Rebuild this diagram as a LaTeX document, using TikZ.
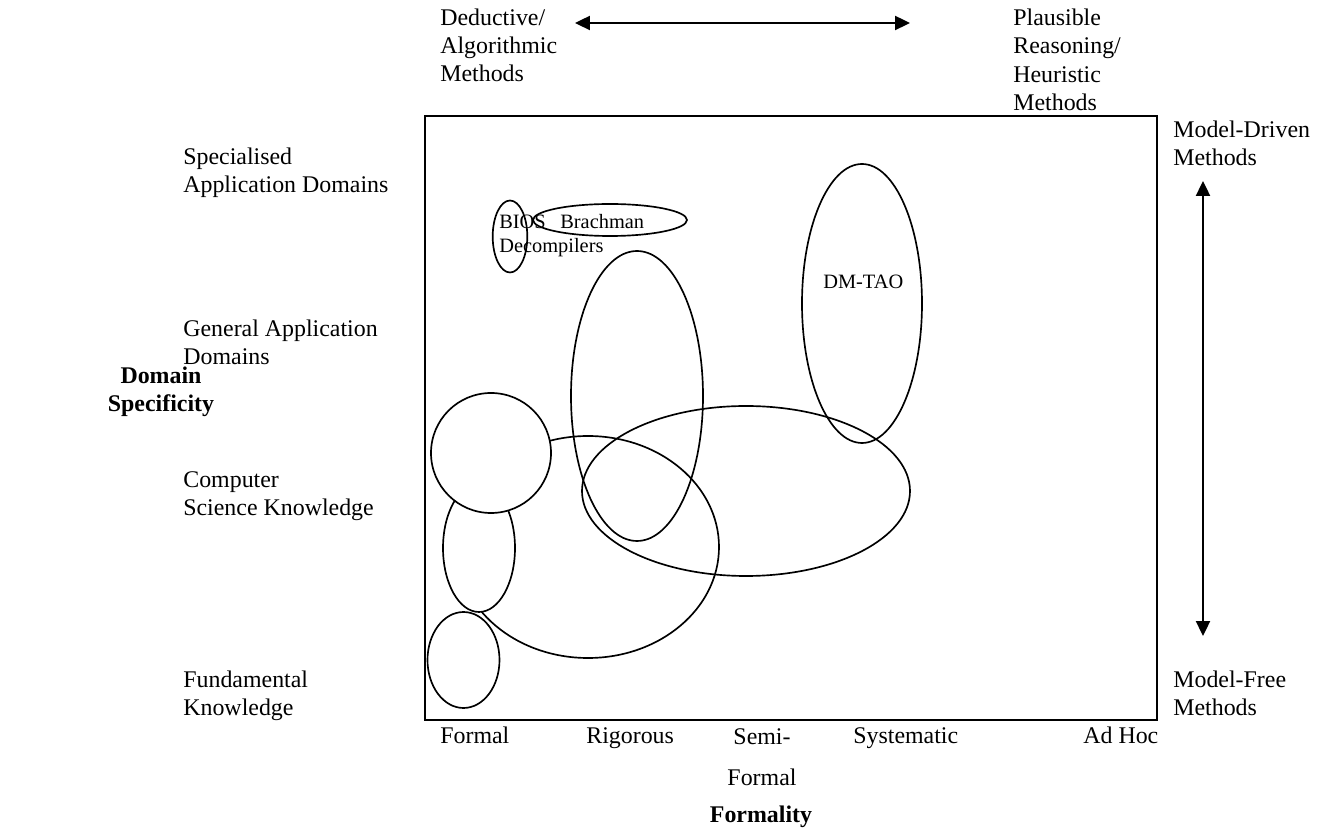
\documentclass[tikz,border=0pt]{standalone}
\usepackage{fontspec}
\setmainfont{Liberation Serif}
\usetikzlibrary{arrows.meta}

\begin{document}
\begin{tikzpicture}[x=0.02cm, y=-0.02cm,
    lbl/.style = {anchor=base west, inner sep=0, align=left, font=\fontsize{13.6}{16.2}\selectfont},
    tag/.style = {anchor=base west, inner sep=0, font=\fontsize{11.6}{13.7}\selectfont},
    head/.style = {lbl, anchor=base, align=center, font=\fontsize{13.6}{16.2}\selectfont\bfseries},
    region/.style = {draw, line width=0.95pt},
    blank/.style = {region, fill=white},
    >={Triangle[length=8.5pt, width=8pt]}]
    \useasboundingbox (0,0) rectangle (1323,837);

    % regions
    \draw[region] (588,547) ellipse [x radius=131, y radius=111];
    \draw[blank] (479,548) ellipse [x radius=36, y radius=64];
    \draw[blank] (491,453) ellipse [x radius=60, y radius=60];
    \draw[blank] (463.5,660) ellipse [x radius=36, y radius=48];

    \draw[region] (637,396) ellipse [x radius=66, y radius=145];
    \draw[region] (746,491) ellipse [x radius=164, y radius=85];
    \draw[region] (862,303.5) ellipse [x radius=60, y radius=139.5];

    \draw[region] (510,236.5) ellipse [x radius=17.3, y radius=36];
    \draw[region] (610,220) ellipse [x radius=77, y radius=16];

    \draw[line width=1.3pt] (425,116) rectangle (1157,720);

    \node[tag] (bios) at (499,229) {BIOS};
    \node[tag] (brach) at (560,229) {Brachman};
    \node[tag] (decomp) at (499,253) {Decompilers};
    \node[tag] (tao) at (823,289) {DM-TAO};

    % method axes (base = last line)
    \node[lbl] (1) at (440,82) {Deductive/\\Algorithmic\\Methods};
    \node[lbl] (2) at (1013,110.5) {Plausible\\Reasoning/\\Heuristic\\Methods};
    \coordinate (l) at (575,23);
    \coordinate (r) at (910,23);
    \draw[<->, line width=1.1pt] (l) -- (r);

    \node[lbl] (3) at (1173,165.5) {Model-Driven\\Methods};
    \node[lbl] (4) at (1173,715.5) {Model-Free\\Methods};
    \coordinate (t) at (1203,181);
    \coordinate (b) at (1203,636);
    \draw[<->, line width=1.1pt] (t) -- (b);

    % domain specificity
    \node[head] (5) at (161,411.5) {Domain\\Specificity};
    \node[lbl] (6) at (183,192.5) {Specialised\\Application Domains};
    \node[lbl] (7) at (183,364.5) {General Application\\Domains};
    \node[lbl] (8) at (183,515.5) {Computer\\Science Knowledge};
    \node[lbl] (9) at (183,715.5) {Fundamental\\Knowledge};

    % formality
    \node[lbl] (10) at (440,744) {Formal};
    \node[lbl] (11) at (586,744) {Rigorous};
    \node[lbl, anchor=base, align=center] (12) at (762,786) {Semi-\\[7.7pt]Formal};
    \node[lbl] (13) at (853,744) {Systematic};
    \node[lbl] (14) at (1083,744) {Ad Hoc};
    \node[head] (15) at (761,823) {Formality};

\end{tikzpicture}
\end{document}
